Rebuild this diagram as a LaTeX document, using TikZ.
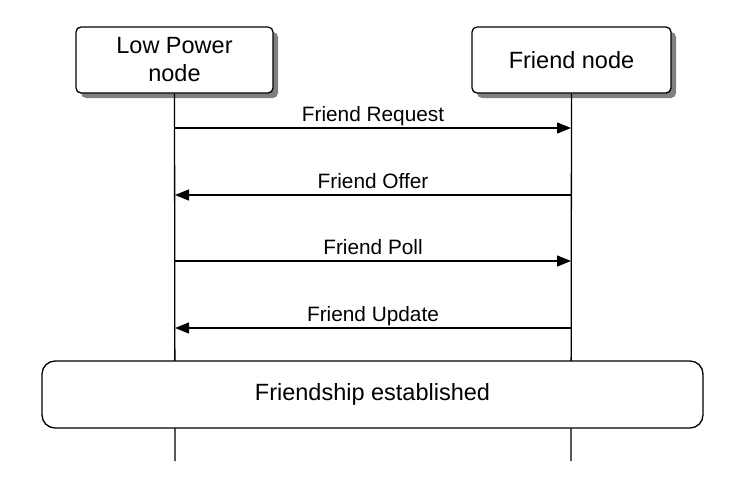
\documentclass[tikz,border=0pt]{standalone}
\usepackage{fontspec}
\setmainfont{Liberation Sans}
\usetikzlibrary{arrows.meta,shadows}
\begin{document}
\begin{tikzpicture}[x=1pt,y=-1pt,
  actor/.style={draw,line width=1.3pt,rounded corners=5pt,fill=white,
    minimum width=197pt,minimum height=66pt,inner sep=0pt,align=center,
    font=\fontsize{23.5}{28}\selectfont,
    drop shadow={shadow xshift=5pt,shadow yshift=-5pt,fill=black!50,opacity=1}},
  state/.style={draw,line width=1.3pt,rounded corners=13pt,fill=white,
    minimum width=661pt,minimum height=67pt,inner sep=0pt,
    font=\fontsize{23.5}{28}\selectfont},
  life/.style={line width=1.3pt},
  msg/.style={line width=1.3pt,-{Triangle[length=14pt,width=11pt]}},
  lbl/.style={anchor=base,inner sep=0pt,font=\fontsize{20.8}{24}\selectfont}]
\useasboundingbox (0,0) rectangle (741,483);
\node[actor] (lp) at (174.5,60) {Low Power\\node};
\node[actor,minimum width=199pt] (fn) at (571.5,60) {Friend node};
\coordinate (lpend) at (175,461);
\coordinate (fnend) at (571,461);
\draw[life] (lp.south) -- (lpend);
\draw[life] (fn.south) -- (fnend);
\coordinate (a1) at (175,128); \coordinate (b1) at (571,128);
\coordinate (a2) at (175,195); \coordinate (b2) at (571,195);
\coordinate (a3) at (175,261); \coordinate (b3) at (571,261);
\coordinate (a4) at (175,328); \coordinate (b4) at (571,328);
\draw[msg] (a1) -- (b1);
\draw[msg] (b2) -- (a2);
\draw[msg] (a3) -- (b3);
\draw[msg] (b4) -- (a4);
\node[lbl] (l1) at (373,121) {Friend Request};
\node[lbl] (l2) at (373,188) {Friend Offer};
\node[lbl] (l3) at (373,254) {Friend Poll};
\node[lbl] (l4) at (373,321) {Friend Update};
\node[state] (fs) at (372.5,394.5) {Friendship established};
\end{tikzpicture}
\end{document}
